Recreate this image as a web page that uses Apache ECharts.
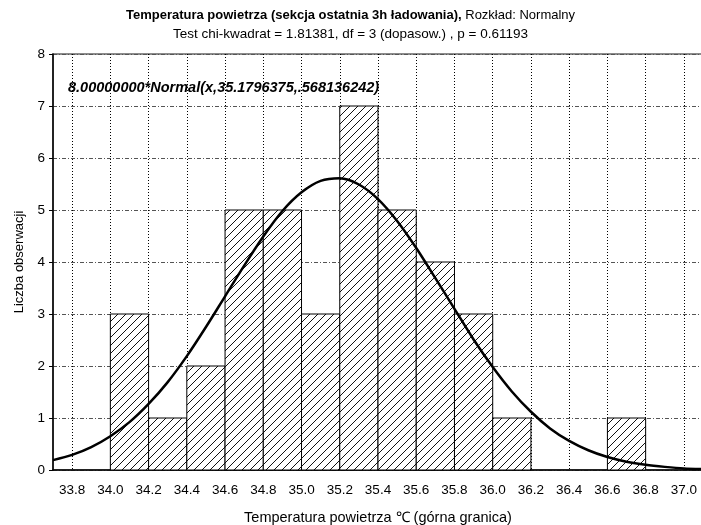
<!DOCTYPE html>
<html>
<head>
<meta charset="utf-8">
<script src="https://cdn.jsdelivr.net/npm/echarts@6/dist/echarts.min.js"></script>
<style>
html, body { margin: 0; padding: 0; background: #fff; }
#main { width: 701px; height: 525px; }
</style>
</head>
<body>
<div id="main"></div>
<script>
// przedzialy histogramu (dolna / gorna granica) i liczebnosci
var binLow = [34.0, 34.2, 34.4, 34.6, 34.8, 35.0, 35.2, 35.4, 35.6, 35.8, 36.0, 36.2, 36.4, 36.6];
var binHigh = [34.2, 34.4, 34.6, 34.8, 35.0, 35.2, 35.4, 35.6, 35.8, 36.0, 36.2, 36.4, 36.6, 36.8];
var counts = [3, 1, 2, 5, 5, 3, 7, 5, 4, 3, 1, 0, 0, 1];

// krzywa dopasowania
var curveX = [33.7, 33.8, 33.9, 34.0, 34.1, 34.2, 34.3, 34.4, 34.5, 34.6, 34.7, 34.8, 34.9, 35.0, 35.1, 35.2, 35.3,
	35.4, 35.5, 35.6, 35.7, 35.8, 35.9, 36.0, 36.1, 36.2, 36.3, 36.4, 36.5, 36.6, 36.7, 36.8, 36.9, 37.0, 37.1];
var curveY = [0.19, 0.29, 0.44, 0.65, 0.92, 1.27, 1.69, 2.19, 2.75, 3.34, 3.93, 4.49, 4.98, 5.34, 5.56, 5.61, 5.49,
	5.21, 4.79, 4.27, 3.69, 3.10, 2.51, 1.98, 1.51, 1.12, 0.80, 0.56, 0.38, 0.25, 0.16, 0.10, 0.06, 0.03, 0.02];

// etykiety osi X
var xTicks = [33.8, 34.0, 34.2, 34.4, 34.6, 34.8, 35.0, 35.2, 35.4, 35.6, 35.8, 36.0, 36.2, 36.4, 36.6, 36.8, 37.0];

// wzor kreskowania
var hatch = document.createElement('canvas');
hatch.width = 8;
hatch.height = 8;
var hctx = hatch.getContext('2d');
hctx.fillStyle = '#fff';
hctx.fillRect(0, 0, 8, 8);
hctx.strokeStyle = '#111';
hctx.lineWidth = 1;
hctx.beginPath();
hctx.moveTo(-1, 9); hctx.lineTo(9, -1);
hctx.moveTo(-1, 1); hctx.lineTo(1, -1);
hctx.moveTo(7, 9); hctx.lineTo(9, 7);
hctx.stroke();

var barData = [];
for (var i = 0; i < counts.length; i++) {
	if (counts[i] > 0) barData.push([binLow[i], binHigh[i], counts[i]]);
}
var curveData = [];
for (var j = 0; j < curveX.length; j++) {
	curveData.push([curveX[j], curveY[j]]);
}

var chart = echarts.init(document.getElementById('main'));

var option = {
	backgroundColor: '#fff',
	animation: false,
	title: {
		left: 'center',
		top: 1,
		text: '{b|Temperatura powietrza (sekcja ostatnia 3h ładowania),} {n|Rozkład: Normalny}\n{m|Test chi-kwadrat = 1.81381, df = 3 (dopasow.) , p = 0.61193}',
		textStyle: {
			fontFamily: 'Liberation Sans',
			fontSize: 13,
			fontWeight: 'normal',
			color: '#000',
			lineHeight: 19,
			rich: {
				b: { fontFamily: 'Liberation Sans', fontSize: 13, fontWeight: 'bold', color: '#000', lineHeight: 19 },
				n: { fontFamily: 'Liberation Sans', fontSize: 13, fontWeight: 'normal', color: '#000', lineHeight: 19 },
				m: { fontFamily: 'Liberation Sans', fontSize: 13.5, fontWeight: 'normal', color: '#000', lineHeight: 19 }
			}
		}
	},
	grid: {
		left: 53,
		right: -2,
		top: 54,
		bottom: 55,
		outerBoundsMode: 'none',
		show: true,
		borderColor: '#666',
		borderWidth: 1.5,
		backgroundColor: '#fff'
	},
	xAxis: {
		type: 'value',
		min: 33.7,
		max: 37.1,
		name: 'Temperatura powietrza ℃ (górna granica)',
		nameLocation: 'middle',
		nameGap: 40,
		nameTextStyle: { fontFamily: 'Liberation Sans', fontSize: 14.5, color: '#000' },
		axisLine: { onZero: false, lineStyle: { color: '#000', width: 1.5 } },
		axisTick: { show: false, customValues: xTicks },
		axisLabel: {
			customValues: xTicks,
			margin: 13,
			fontFamily: 'Liberation Sans',
			fontSize: 13.5,
			color: '#000',
			formatter: function(v) { return v.toFixed(1); }
		},
		splitLine: { show: true, lineStyle: { color: '#000', width: 1, type: [1, 2] } }
	},
	yAxis: {
		type: 'value',
		min: 0,
		max: 8,
		interval: 1,
		name: 'Liczba obserwacji',
		nameLocation: 'middle',
		nameGap: 27,
		nameTextStyle: { fontFamily: 'Liberation Sans', fontSize: 13, color: '#000' },
		axisLine: { show: true, lineStyle: { color: '#000', width: 1.5 } },
		axisTick: { show: true, length: 4, lineStyle: { color: '#000' } },
		axisLabel: { margin: 8, fontFamily: 'Liberation Sans', fontSize: 13.5, color: '#000' },
		splitLine: { show: true, lineStyle: { color: '#555', width: 1, type: [4, 2, 1, 2] } }
	},
	graphic: [{
		type: 'text',
		left: 68,
		top: 80,
		style: {
			text: '8.00000000*Normal(x,35.1796375,.568136242)',
			font: 'italic bold 14.5px "Liberation Sans"',
			fill: '#000'
		}
	}],
	series: [{
		type: 'custom',
		data: barData,
		encode: { x: [0, 1], y: 2 },
		z: 2,
		renderItem: function(params, api) {
			var p0 = api.coord([api.value(0), api.value(2)]);
			var p1 = api.coord([api.value(1), 0]);
			return {
				type: 'rect',
				shape: { x: p0[0], y: p0[1], width: p1[0] - p0[0], height: p1[1] - p0[1] },
				style: { fill: { image: hatch, repeat: 'repeat' }, stroke: '#000', lineWidth: 1 }
			};
		}
	}, {
		type: 'line',
		data: curveData,
		smooth: 0.3,
		symbol: 'none',
		z: 3,
		lineStyle: { color: '#000', width: 2.5 }
	}]
};

chart.setOption(option);
</script>
</body>
</html>
